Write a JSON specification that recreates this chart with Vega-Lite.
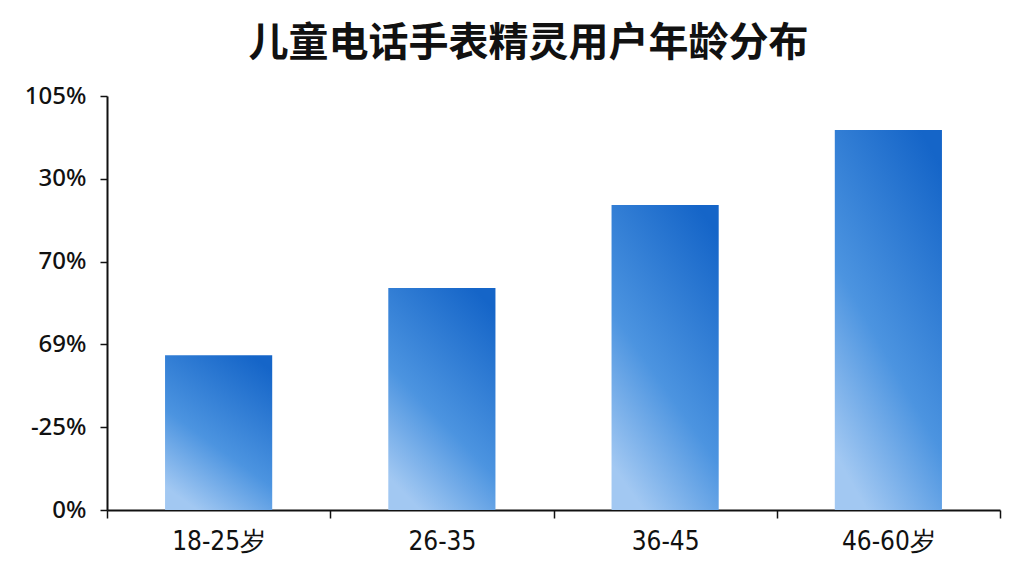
{
  "$schema": "https://vega.github.io/schema/vega-lite/v6.json",
  "autosize": {"type": "none"},
  "width": 893,
  "height": 414,
  "padding": {"left": 107, "top": 96, "right": 24, "bottom": 66},
  "background": "white",
  "title": {
    "text": "儿童电话手表精灵用户年龄分布",
    "font": "Noto Sans CJK SC",
    "fontSize": 40,
    "fontWeight": "bold",
    "color": "#111111",
    "anchor": "middle",
    "dx": -25,
    "offset": 20
  },
  "data": {
    "values": [
      {"age": "18-25岁", "share": 37.4},
      {"age": "26-35", "share": 53.6},
      {"age": "36-45", "share": 73.7},
      {"age": "46-60岁", "share": 91.8}
    ]
  },
  "mark": {
    "type": "bar",
    "width": {"band": 0.48},
    "color": {
      "gradient": "linear",
      "x1": 0.8, "y1": 0, "x2": 0.3, "y2": 1,
      "stops": [
        {"offset": 0, "color": "#1565c8"},
        {"offset": 0.6, "color": "#4c94e0"},
        {"offset": 1, "color": "#a2c8f2"}
      ]
    }
  },
  "encoding": {
    "x": {
      "field": "age",
      "type": "nominal",
      "sort": null,
      "title": null,
      "scale": {"paddingInner": 0, "paddingOuter": 0},
      "axis": {
        "labelAngle": 0,
        "labelFont": "DejaVu Sans Condensed, Roboto Condensed, Roboto",
        "labelFontSize": 26,
        "labelColor": "#111111",
        "labelPadding": 10,
        "tickBand": "extent",
        "tickSize": 8,
        "tickColor": "#111111",
        "tickWidth": 1.5,
        "domainColor": "#111111",
        "domainWidth": 2
      }
    },
    "y": {
      "field": "share",
      "type": "quantitative",
      "title": null,
      "scale": {"domain": [0, 100], "nice": false},
      "axis": {
        "values": [0, 20, 40, 60, 80, 100],
        "labelExpr": "datum.value == 0 ? '0%' : datum.value == 20 ? '-25%' : datum.value == 40 ? '69%' : datum.value == 60 ? '70%' : datum.value == 80 ? '30%' : '105%'",
        "grid": false,
        "labelFont": "Noto Sans",
        "labelFontSize": 24,
        "labelFontWeight": 500,
        "labelColor": "#111111",
        "labelPadding": 14,
        "tickSize": 7,
        "tickColor": "#111111",
        "tickWidth": 1.5,
        "domainColor": "#111111",
        "domainWidth": 2
      }
    }
  },
  "config": {"view": {"stroke": null}}
}
